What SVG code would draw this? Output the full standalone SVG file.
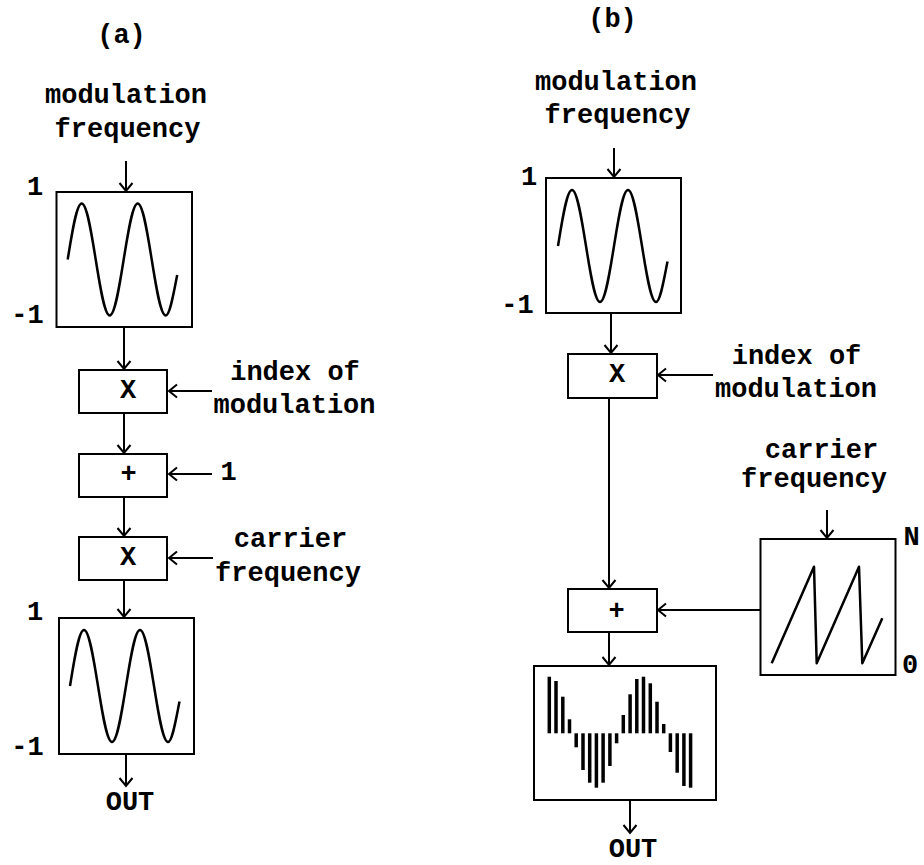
<svg xmlns="http://www.w3.org/2000/svg" width="924" height="865" viewBox="0 0 924 865">
<defs>
<style>
.t{font-family:"Liberation Mono","Courier New",monospace;font-weight:bold;font-size:27px;fill:#000}
.m{text-anchor:middle}
.box{fill:#fff;stroke:#000;stroke-width:2}
.w{fill:none;stroke:#000;stroke-width:2.5;stroke-linejoin:round}
.c line,.c path{stroke:#000;stroke-width:2;fill:none;marker-end:url(#a)}
.bars line{stroke:#000;stroke-width:3.5}
</style>
<marker id="a" markerUnits="userSpaceOnUse" markerWidth="20" markerHeight="20" viewBox="-10 -10 20 20" refX="0" refY="0" orient="auto">
<path d="M-8,-6.5 L0,0 L-8,6.5" fill="none" stroke="#000" stroke-width="2"/>
</marker>
<path id="sine" d="M0,0 c4.565,-28.68 8.913,-56 14,-56 s9.435,27.32 14,56 s8.913,56 14,56 s9.435,-27.32 14,-56 s8.913,-56 14,-56 s9.435,27.32 14,56 s8.913,56 14,56 c4.2,0 7.9,-22 11.5,-40.5"/>
</defs>
<rect width="924" height="865" fill="#fff"/>

<!-- connectors -->
<g id="connectors" class="c">
<line x1="126" y1="161" x2="126" y2="191"/>
<line x1="124" y1="327" x2="124" y2="369"/>
<line x1="124" y1="413" x2="124" y2="453"/>
<line x1="124" y1="497" x2="124" y2="536"/>
<line x1="124" y1="580" x2="124" y2="617"/>
<line x1="126" y1="754" x2="126" y2="786"/>
<line x1="212" y1="391" x2="169" y2="391"/>
<line x1="212" y1="474" x2="169" y2="474"/>
<line x1="213" y1="558" x2="169" y2="558"/>

<line x1="614" y1="148" x2="614" y2="177"/>
<line x1="611" y1="313" x2="611" y2="353"/>
<line x1="713" y1="375" x2="658" y2="375"/>
<line x1="609" y1="398" x2="609" y2="588"/>
<line x1="827" y1="510" x2="827" y2="538"/>
<line x1="760" y1="610" x2="658" y2="610"/>
<line x1="609" y1="632" x2="609" y2="665"/>
<line x1="630" y1="800" x2="630" y2="833"/>
</g>

<!-- (a) -->
<g id="title-a"><text class="t m" x="121.5" y="43">(a)</text></g>
<g id="a-modfreq-label">
<text class="t m" x="126" y="103">modulation</text>
<text class="t m" x="127.5" y="137">frequency</text>
</g>
<g id="a-osc1">
<rect class="box" x="56.5" y="192" width="135.5" height="135"/>
<use href="#sine" class="w" x="67.7" y="259.5"/>
<text class="t m" x="35" y="195">1</text>
<text class="t m" x="27.5" y="323">-1</text>
</g>
<g id="a-mul1">
<rect class="box" x="79" y="370" width="88" height="43"/>
<text class="t m" x="128" y="398">X</text>
</g>
<g id="a-index-label">
<text class="t m" x="295" y="380">index of</text>
<text class="t m" x="294.5" y="413">modulation</text>
</g>
<g id="a-add">
<rect class="box" x="79" y="454" width="88" height="43"/>
<text class="t m" x="128.5" y="482">+</text>
</g>
<g id="a-one-label"><text class="t m" x="228.5" y="480">1</text></g>
<g id="a-mul2">
<rect class="box" x="79" y="537" width="88" height="43"/>
<text class="t m" x="128" y="565">X</text>
</g>
<g id="a-carrier-label">
<text class="t m" x="290.5" y="547">carrier</text>
<text class="t m" x="288" y="581">frequency</text>
</g>
<g id="a-osc2">
<rect class="box" x="59" y="618" width="135" height="136"/>
<use href="#sine" class="w" x="70" y="686"/>
<text class="t m" x="35" y="620">1</text>
<text class="t m" x="27.5" y="755">-1</text>
</g>
<g id="a-out"><text class="t m" x="130" y="810">OUT</text></g>

<!-- (b) -->
<g id="title-b"><text class="t m" x="612.5" y="27">(b)</text></g>
<g id="b-modfreq-label">
<text class="t m" x="616" y="90">modulation</text>
<text class="t m" x="617.5" y="123">frequency</text>
</g>
<g id="b-osc1">
<rect class="box" x="546" y="178" width="135" height="135"/>
<use href="#sine" class="w" x="558" y="246"/>
<text class="t m" x="529" y="185">1</text>
<text class="t m" x="517.5" y="313">-1</text>
</g>
<g id="b-mul">
<rect class="box" x="568" y="354" width="89" height="44"/>
<text class="t m" x="617" y="382">X</text>
</g>
<g id="b-index-label">
<text class="t m" x="796.5" y="364">index of</text>
<text class="t m" x="796" y="397">modulation</text>
</g>
<g id="b-carrier-label">
<text class="t m" x="821.5" y="458">carrier</text>
<text class="t m" x="814" y="487">frequency</text>
</g>
<g id="b-saw">
<rect class="box" x="760.5" y="539" width="135" height="136"/>
<path class="w" stroke-width="2" d="M771.7,663.3 L814,566.7 L816.7,663.3 L859,566.7 L862.3,663.3 L882.3,618.3"/>
<text class="t m" x="911.5" y="545">N</text>
<text class="t m" x="910" y="673">0</text>
</g>
<g id="b-add">
<rect class="box" x="568" y="589" width="89" height="43"/>
<text class="t m" x="616.5" y="619">+</text>
</g>
<g id="b-output">
<rect class="box" x="534" y="666" width="182" height="134"/>
<g class="bars">
<line x1="549.3" y1="733.3" x2="549.3" y2="676.7"/>
<line x1="556.0" y1="733.3" x2="556.0" y2="681"/>
<line x1="562.8" y1="733.3" x2="562.8" y2="696.7"/>
<line x1="569.5" y1="733.3" x2="569.5" y2="719.3"/>
<line x1="576.2" y1="733.3" x2="576.2" y2="747.3"/>
<line x1="583.0" y1="733.3" x2="583.0" y2="770"/>
<line x1="589.7" y1="733.3" x2="589.7" y2="782.7"/>
<line x1="596.4" y1="733.3" x2="596.4" y2="787.7"/>
<line x1="603.1" y1="733.3" x2="603.1" y2="782.7"/>
<line x1="609.9" y1="733.3" x2="609.9" y2="766"/>
<line x1="616.6" y1="733.3" x2="616.6" y2="743.3"/>
<line x1="623.3" y1="733.3" x2="623.3" y2="715"/>
<line x1="630.1" y1="733.3" x2="630.1" y2="694.3"/>
<line x1="636.8" y1="733.3" x2="636.8" y2="679"/>
<line x1="643.5" y1="733.3" x2="643.5" y2="676.7"/>
<line x1="650.3" y1="733.3" x2="650.3" y2="683.3"/>
<line x1="657.0" y1="733.3" x2="657.0" y2="701.7"/>
<line x1="663.7" y1="733.3" x2="663.7" y2="724"/>
<line x1="670.4" y1="733.3" x2="670.4" y2="752"/>
<line x1="677.2" y1="733.3" x2="677.2" y2="772.7"/>
<line x1="683.9" y1="733.3" x2="683.9" y2="786"/>
<line x1="690.6" y1="733.3" x2="690.6" y2="787.7"/>
</g>
</g>
<g id="b-out"><text class="t m" x="633" y="857">OUT</text></g>
</svg>
